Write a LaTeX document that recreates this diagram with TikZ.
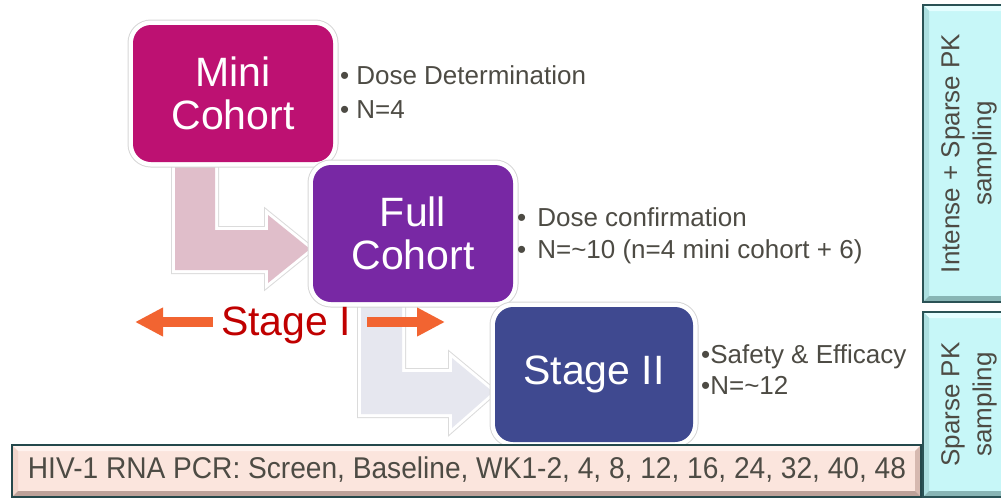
\documentclass[tikz,border=0pt]{standalone}
\usepackage{fontspec}
\setmainfont{Liberation Sans}
\usetikzlibrary{arrows.meta}

\definecolor{minic}{HTML}{BD1172}
\definecolor{fullc}{HTML}{7828A4}
\definecolor{stagec}{HTML}{3F4990}
\definecolor{pinkarr}{HTML}{E0BECA}
\definecolor{greyarr}{HTML}{E6E7EF}
\definecolor{stagered}{HTML}{C00000}
\definecolor{orangearr}{HTML}{F26431}
\definecolor{bodytext}{HTML}{4D4B44}
% bevelled panels
\definecolor{bar-face}{HTML}{FBE5DD}
\definecolor{bar-top}{HTML}{FFF3EF}
\definecolor{bar-left}{HTML}{F1D5CB}
\definecolor{bar-right}{HTML}{D6B9B0}
\definecolor{bar-bottom}{HTML}{BCA199}
\definecolor{bar-edge}{HTML}{24484B}
\definecolor{cy-face}{HTML}{C7F7F8}
\definecolor{cy-top}{HTML}{E4FEFF}
\definecolor{cy-left}{HTML}{ACDFE0}
\definecolor{cy-right}{HTML}{9ECCCD}
\definecolor{cy-bottom}{HTML}{88B5B5}
\definecolor{cy-edge}{HTML}{2A5255}

% #1,#2 = top-left (x, depth), #3,#4 = bottom-right (x, depth), #5 = bevel, #6 = colour prefix
\newcommand\bevelpanel[6]{%
  \fill[#6-face] (#1,-#2) rectangle (#3,-#4);
  \fill[#6-top] (#1,-#2) -- (#3,-#2) -- ({#3-#5},{-#2-#5}) -- ({#1+#5},{-#2-#5}) -- cycle;
  \fill[#6-left] (#1,-#2) -- ({#1+#5},{-#2-#5}) -- ({#1+#5},{-#4+#5}) -- (#1,-#4) -- cycle;
  \fill[#6-right] (#3,-#2) -- (#3,-#4) -- ({#3-#5},{-#4+#5}) -- ({#3-#5},{-#2-#5}) -- cycle;
  \fill[#6-bottom] (#1,-#4) -- ({#1+#5},{-#4+#5}) -- ({#3-#5},{-#4+#5}) -- (#3,-#4) -- cycle;
  \draw[#6-edge, line width=2pt] (#1,-#2) rectangle (#3,-#4);
}

\tikzset{
  cohort/.style={rounded corners=18pt, minimum width=200pt, minimum height=137pt,
    inner sep=0pt, text=white, align=center,
    font=\fontsize{41}{43}\selectfont,
    preaction={draw=black!16, line width=11pt},
    preaction={draw=white, line width=9pt}},
  bentarrow/.style={preaction={draw=black!14, line width=8pt, line join=miter},
    preaction={draw=white, line width=6pt, line join=miter}},
  bullet/.style={anchor=base west, inner sep=0pt, text=bodytext,
    font=\fontsize{26}{30}\selectfont},
  sidetext/.style={rotate=90, align=center, text=bodytext, inner sep=0pt,
    font=\fontsize{26}{32}\selectfont},
  orangeline/.style={draw=orangearr, line width=10pt,
    -{Triangle[length=28pt, width=27pt]}}
}

\begin{document}
\begin{tikzpicture}[x=1pt, y=1pt]
\useasboundingbox (0,0) rectangle (1001,-499);
\clip (0,0) rectangle (1001,-499);

% block arrows stepping from one cohort to the next
\path[bentarrow, fill=pinkarr] (175,-150) -- (215,-150) -- (215,-230) -- (268,-230)
  -- (268,-215) -- (310,-249) -- (268,-283) -- (268,-270) -- (175,-270) -- cycle;
\path[bentarrow, fill=greyarr] (361,-290) -- (402,-290) -- (402,-372) -- (452,-372)
  -- (452,-358) -- (493,-392) -- (452,-428) -- (452,-414) -- (361,-414) -- cycle;

% cohort boxes
\node[cohort, fill=minic] (mini) at (233,-93.5) {Mini\\Cohort};
\node[cohort, fill=fullc] (full) at (413,-233.5) {Full\\Cohort};
\node[cohort, fill=stagec, minimum width=198pt, minimum height=135pt] (stage2) at (594,-374.5) {Stage II};

% stage I label with arrows either side
\node[anchor=base west, inner sep=0pt, text=stagered, font=\fontsize{41}{43}\selectfont]
  (stage1) at (221,-335) {Stage I};
\coordinate (la0) at (213,-322);
\coordinate (la1) at (135,-322);
\coordinate (ra0) at (367,-322);
\coordinate (ra1) at (445,-322);
\draw[orangeline] (la0) -- (la1);
\draw[orangeline] (ra0) -- (ra1);

% notes beside each box
\node[bullet] (m1) at (340,-84) {•\hspace{7pt}Dose Determination};
\node[bullet] (m2) at (340,-118) {•\hspace{7pt}N=4};
\node[bullet] (f1) at (517,-226) {•\hspace{11pt}Dose confirmation};
\node[bullet] (f2) at (517,-258) {•\hspace{11pt}N=\textasciitilde10 (n=4 mini cohort + 6)};
\node[bullet] (s1) at (701,-363) {•Safety \& Efficacy};
\node[bullet] (s2) at (701,-394) {•N=\textasciitilde12};

% HIV-1 RNA sampling bar
\bevelpanel{12}{445}{921}{497}{6}{bar}
\node[inner sep=0pt, text=bodytext, font=\fontsize{30}{32}\selectfont]
  (pcr) at (467,-470) {\scalebox{0.937}[1]{HIV-1 RNA PCR: Screen, Baseline, WK1-2, 4, 8, 12, 16, 24, 32, 40, 48}};

% PK sampling panels
\bevelpanel{923}{5}{1016}{302}{6}{cy}
\node[sidetext] (pk1) at (969,-153.5) {Intense + Sparse PK\\sampling};
\bevelpanel{923}{312}{1016}{497}{6}{cy}
\node[sidetext] (pk2) at (969,-404.5) {Sparse PK\\sampling};
\end{tikzpicture}
\end{document}
